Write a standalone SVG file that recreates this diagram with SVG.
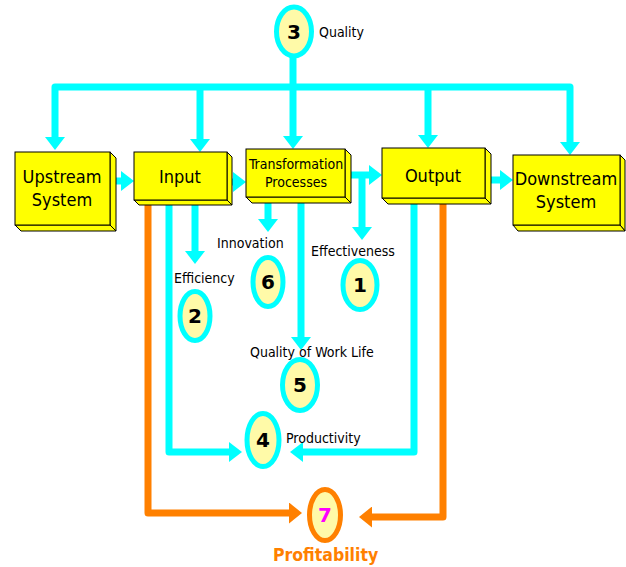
<svg xmlns="http://www.w3.org/2000/svg" width="626" height="567" viewBox="0 0 626 567">
<defs>
<style>
.box{fill:#FFFF00;stroke:#000;stroke-width:1}
.bt{font-family:"DejaVu Sans Condensed","DejaVu Sans",sans-serif;font-size:18px;fill:#000;text-anchor:middle}
.bts{font-family:"DejaVu Sans Condensed","DejaVu Sans",sans-serif;font-size:14px;fill:#000;text-anchor:middle}
.lbl{font-family:"DejaVu Sans Condensed","DejaVu Sans",sans-serif;font-size:14px;fill:#000}
.num{font-family:"DejaVu Sans","Liberation Sans",sans-serif;font-size:20px;font-weight:bold;fill:#000;text-anchor:middle}
.ell{fill:#FFFAA8;stroke:#00FFFF;stroke-width:5}
.c{fill:none;stroke:#00FFFF;stroke-width:7;stroke-linejoin:round}
.o{fill:none;stroke:#FF8000;stroke-width:7;stroke-linejoin:round}
</style>
<marker id="ac" markerUnits="userSpaceOnUse" markerWidth="13" markerHeight="20" viewBox="0 0 13 20" refX="0" refY="10" orient="auto"><path d="M0,0 L13,10 L0,20 z" fill="#00FFFF"/></marker>
<marker id="ao" markerUnits="userSpaceOnUse" markerWidth="13" markerHeight="21" viewBox="0 0 13 21" refX="0" refY="10.5" orient="auto"><path d="M0,0 L13,10.5 L0,21 z" fill="#FF8000"/></marker>
</defs>
<g id="connectors">
<path class="c" d="M293,87 H55 V137" marker-end="url(#ac)"/>
<path class="c" d="M293,87 H570 V142" marker-end="url(#ac)"/>
<path class="c" d="M200,87 V139" marker-end="url(#ac)"/>
<path class="c" d="M293,55 V136" marker-end="url(#ac)"/>
<path class="c" d="M428,87 V135" marker-end="url(#ac)"/>
<path class="c" d="M114,181 H121" marker-end="url(#ac)"/>
<path class="c" d="M229,182 H233" marker-end="url(#ac)"/>
<path class="c" d="M350,175 H369" marker-end="url(#ac)"/>
<path class="c" d="M362,175 V227" marker-end="url(#ac)"/>
<path class="c" d="M490,180 H500" marker-end="url(#ac)"/>
<path class="c" d="M195,200 V251" marker-end="url(#ac)"/>
<path class="c" d="M268,198 V219" marker-end="url(#ac)"/>
<path class="c" d="M301,198 V337" marker-end="url(#ac)"/>
<path class="c" d="M169,200 V452 H229" marker-end="url(#ac)"/>
<path class="c" d="M414,200 V452 H303" marker-end="url(#ac)"/>
<path class="o" d="M148,200 V513 H289" marker-end="url(#ao)"/>
<path class="o" d="M443,200 V517 H372" marker-end="url(#ao)"/>
</g>
<g id="upstream">
<polygon class="box" points="110,152 116,158 116,231 110,225"/>
<polygon class="box" points="15,225 110,225 116,231 21,231"/>
<rect class="box" x="15" y="152" width="95" height="73"/>
<text class="bt" x="62" y="183">Upstream</text>
<text class="bt" x="62" y="206">System</text>
</g>
<g id="input">
<polygon class="box" points="227,152 232,157 232,205 227,200"/>
<polygon class="box" points="134,200 227,200 232,205 139,205"/>
<rect class="box" x="134" y="152" width="93" height="48"/>
<text class="bt" x="180" y="183">Input</text>
</g>
<g id="transformation">
<polygon class="box" points="345,149 351,155 351,203 345,197"/>
<polygon class="box" points="246,197 345,197 351,203 252,203"/>
<rect class="box" x="246" y="149" width="99" height="48"/>
<text class="bts" x="296" y="169">Transformation</text>
<text class="bts" x="296" y="187">Processes</text>
</g>
<g id="output">
<polygon class="box" points="485,148 491,154 491,204 485,198"/>
<polygon class="box" points="382,198 485,198 491,204 388,204"/>
<rect class="box" x="382" y="148" width="103" height="50"/>
<text class="bt" x="433" y="182">Output</text>
</g>
<g id="downstream">
<polygon class="box" points="620,155 625,160 625,231 620,225"/>
<polygon class="box" points="513,225 620,225 625,231 518,231"/>
<rect class="box" x="513" y="155" width="107" height="70"/>
<text class="bt" x="566" y="185">Downstream</text>
<text class="bt" x="566" y="208">System</text>
</g>
<g id="quality">
<ellipse class="ell" cx="294" cy="31.5" rx="17.5" ry="24.5"/>
<text class="num" x="294" y="39">3</text>
<text class="lbl" x="319" y="37">Quality</text>
</g>
<g id="effectiveness">
<ellipse class="ell" cx="360" cy="285" rx="17" ry="24.5"/>
<text class="num" x="360" y="292">1</text>
<text class="lbl" x="311" y="256">Effectiveness</text>
</g>
<g id="efficiency">
<ellipse class="ell" cx="195" cy="316" rx="15" ry="24.5"/>
<text class="num" x="195" y="323">2</text>
<text class="lbl" x="174" y="283">Efficiency</text>
</g>
<g id="innovation">
<ellipse class="ell" cx="268" cy="282" rx="15" ry="24.5"/>
<text class="num" x="268" y="289">6</text>
<text class="lbl" x="217" y="248">Innovation</text>
</g>
<g id="qwl">
<ellipse class="ell" cx="300" cy="385" rx="17.5" ry="25.5"/>
<text class="num" x="300" y="392">5</text>
<text class="lbl" x="250" y="357">Quality of Work Life</text>
</g>
<g id="productivity">
<ellipse class="ell" cx="263" cy="440" rx="16" ry="26.5"/>
<text class="num" x="263" y="447">4</text>
<text class="lbl" x="286" y="443">Productivity</text>
</g>
<g id="profitability">
<ellipse class="ell" style="stroke:#FF8000" cx="325" cy="515" rx="15.5" ry="25.5"/>
<text class="num" style="fill:#FF00FF" x="325" y="522">7</text>
<text x="273" y="561" style="font-family:'DejaVu Sans Condensed','DejaVu Sans',sans-serif;font-size:17.5px;font-weight:bold;fill:#FF8000">Profitability</text>
</g>
</svg>
